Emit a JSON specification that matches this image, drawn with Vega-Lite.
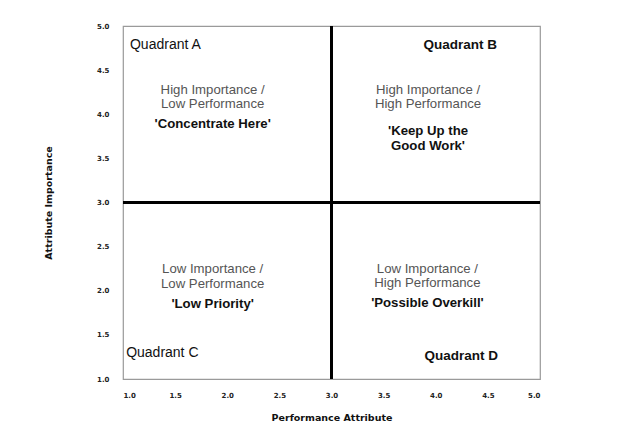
{
  "$schema": "https://vega.github.io/schema/vega-lite/v6.json",
  "autosize": "none",
  "width": 417,
  "height": 353,
  "padding": {"left": 123, "top": 26, "right": 82, "bottom": 47},
  "background": "white",
  "config": {
    "view": {"stroke": "#9a9a9a", "strokeWidth": 1.2},
    "font": "Liberation Sans",
    "axis": {
      "grid": false,
      "ticks": false,
      "domain": false,
      "labelFont": "DejaVu Sans",
      "labelFontSize": 7,
      "labelFontWeight": "bold",
      "labelColor": "#222",
      "titleFont": "DejaVu Sans",
      "titleFontSize": 9.5,
      "titleFontWeight": "bold",
      "titleColor": "#111"
    }
  },
  "datasets": {
    "lines": [{"x": 3, "y": 3}],
    "quadrants": [
      {"quadrant": "A", "x": 1.067, "y": 4.785, "label": "Quadrant A"},
      {"quadrant": "B", "x": 4.587, "y": 4.785, "label": "Quadrant B"},
      {"quadrant": "C", "x": 1.03, "y": 1.295, "label": "Quadrant C"},
      {"quadrant": "D", "x": 4.597, "y": 1.26, "label": "Quadrant D"}
    ],
    "descriptions": [
      {"quadrant": "A", "x": 1.86, "y": 4.28, "label": "High Importance /\nLow Performance"},
      {"quadrant": "B", "x": 3.926, "y": 4.28, "label": "High Importance /\nHigh Performance"},
      {"quadrant": "C", "x": 1.86, "y": 2.241, "label": "Low Importance /\nLow Performance"},
      {"quadrant": "D", "x": 3.92, "y": 2.252, "label": "Low Importance /\nHigh Performance"}
    ],
    "mottos": [
      {"quadrant": "A", "x": 1.86, "y": 3.89, "label": "'Concentrate Here'"},
      {"quadrant": "B", "x": 3.926, "y": 3.81, "label": "'Keep Up the\nGood Work'"},
      {"quadrant": "C", "x": 1.86, "y": 1.85, "label": "'Low Priority'"},
      {"quadrant": "D", "x": 3.92, "y": 1.861, "label": "'Possible Overkill'"}
    ]
  },
  "layer": [
    {
      "data": {"name": "lines"},
      "mark": {"type": "rule", "color": "black", "strokeWidth": 3},
      "encoding": {
        "x": {"field": "x", "type": "quantitative", "scale": {"domain": [1, 5], "nice": false, "zero": false},
          "axis": {"values": [1, 1.5, 2, 2.5, 3, 3.5, 4, 4.5, 5], "format": ".1f", "title": "Performance Attribute", "labelPadding": 12, "titlePadding": 14}}
      }
    },
    {
      "data": {"name": "lines"},
      "mark": {"type": "rule", "color": "black", "strokeWidth": 3},
      "encoding": {
        "y": {"field": "y", "type": "quantitative", "scale": {"domain": [1, 5], "nice": false, "zero": false},
          "axis": {"values": [1, 1.5, 2, 2.5, 3, 3.5, 4, 4.5, 5], "format": ".1f", "title": "Attribute Importance", "labelPadding": 14, "titlePadding": 43}}
      }
    },
    {
      "data": {"name": "quadrants"},
      "transform": [{"filter": "datum.quadrant === 'A' || datum.quadrant === 'C'"}],
      "mark": {"type": "text", "align": "left", "baseline": "middle", "fontSize": 14, "color": "#111"},
      "encoding": {
        "x": {"field": "x", "type": "quantitative"},
        "y": {"field": "y", "type": "quantitative"},
        "text": {"field": "label"}
      }
    },
    {
      "data": {"name": "quadrants"},
      "transform": [{"filter": "datum.quadrant === 'B' || datum.quadrant === 'D'"}],
      "mark": {"type": "text", "align": "right", "baseline": "middle", "fontSize": 13.5, "fontWeight": "bold", "color": "#111"},
      "encoding": {
        "x": {"field": "x", "type": "quantitative"},
        "y": {"field": "y", "type": "quantitative"},
        "text": {"field": "label"}
      }
    },
    {
      "data": {"name": "descriptions"},
      "mark": {"type": "text", "align": "center", "baseline": "middle", "fontSize": 13.2, "lineBreak": "\n", "lineHeight": 14.5, "color": "#555"},
      "encoding": {
        "x": {"field": "x", "type": "quantitative"},
        "y": {"field": "y", "type": "quantitative"},
        "text": {"field": "label"}
      }
    },
    {
      "data": {"name": "mottos"},
      "mark": {"type": "text", "align": "center", "baseline": "middle", "fontSize": 13.2, "fontWeight": "bold", "lineBreak": "\n", "lineHeight": 14.5, "color": "#111"},
      "encoding": {
        "x": {"field": "x", "type": "quantitative"},
        "y": {"field": "y", "type": "quantitative"},
        "text": {"field": "label"}
      }
    }
  ]
}
